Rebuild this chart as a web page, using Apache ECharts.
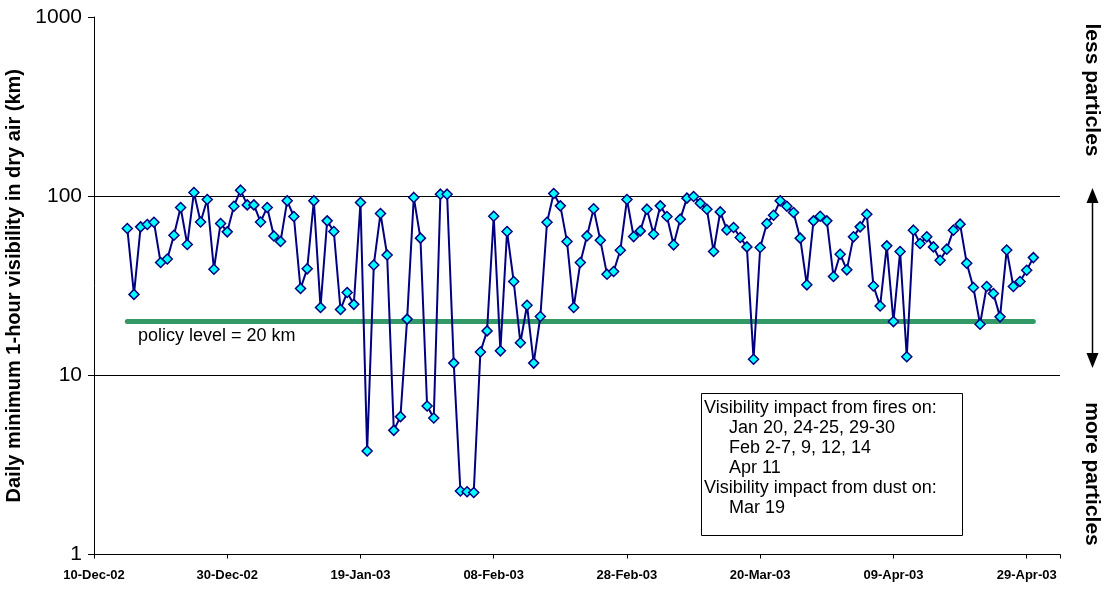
<!DOCTYPE html>
<html>
<head>
<meta charset="utf-8">
<script src="https://cdn.jsdelivr.net/npm/echarts@6/dist/echarts.min.js"></script>
<style>
  html, body { margin: 0; padding: 0; background: #fff; }
  #chart { width: 1109px; height: 589px; }
</style>
</head>
<body>
<div id="chart"></div>
<script>
// axis runs from axisStart to axisEnd, one tick label every 20 days
const axisStart = '2002-12-10';
const axisEnd = '2003-05-04';
const tickLabels = ['10-Dec-02', '30-Dec-02', '19-Jan-03', '08-Feb-03', '28-Feb-03', '20-Mar-03', '09-Apr-03', '29-Apr-03'];

// daily minimum 1-hour visibility (km), one value per day starting firstDay
const firstDay = '2002-12-15';
const visibility = [
  66.0, 28.3, 67.4, 69.5, 71.5, 42.6, 44.6, 60.5, 86.5, 53.7,
  104.9, 71.8, 95.8, 39.1, 70.4, 63.2, 87.9, 108, 89.4, 89.4,
  71.8, 86.5, 60.0, 55.8, 94.2, 77.0, 30.5, 39.3, 94.2, 23.9,
  72.8, 63.5, 23.3, 29.0, 24.9, 92.2, 3.78, 41.3, 80.0, 47.0,
  4.93, 5.88, 20.6, 98.4, 58.3, 6.74, 5.78, 102.6, 102.6, 11.7,
  2.26, 2.24, 2.22, 13.5, 17.7, 77.3, 13.7, 63.5, 33.4, 15.2,
  24.6, 11.7, 21.3, 71.5, 103.5, 88.3, 55.8, 23.9, 42.6, 60.0,
  85.0, 56.8, 36.7, 38.0, 49.9, 95.8, 59.5, 64.0, 84.6, 61.3,
  88.3, 77.0, 53.5, 74.4, 97.5, 99.6, 91.4, 84.6, 49.1, 81.7,
  64.8, 66.9, 58.8, 52.1, 12.3, 51.7, 70.4, 78.3, 94.2, 87.9,
  81.1, 58.3, 32.0, 72.8, 77.3, 72.8, 35.6, 47.4, 38.8, 59.3,
  67.4, 79.3, 31.5, 24.4, 52.8, 19.95, 49.1, 12.7, 64.6, 54.4,
  59.3, 52.1, 43.9, 50.6, 64.6, 69.8, 42.2, 30.9, 19.3, 31.3,
  28.6, 21.2, 50.1, 31.3, 33.4, 38.6, 45.4
];

const policyLevel = 20;

// text box, second item = indented
const noteLines = [
  ['Visibility impact from fires on:', false],
  ['Jan 20, 24-25, 29-30', true],
  ['Feb 2-7, 9, 12, 14', true],
  ['Apr 11', true],
  ['Visibility impact from dust on:', false],
  ['Mar 19', true]
];

const FONT = 'Liberation Sans, Arial, sans-serif';
const DAY = 86400000;
function dayOf(d) {
  return Math.round((Date.parse(d) - Date.parse(axisStart)) / DAY);
}

const start = dayOf(firstDay);
const visData = visibility.map((v, i) => [start + i, v]);
const policyData = visibility.map((v, i) => [start + i, policyLevel]);

const noteGraphics = noteLines.map((l, k) => ({
  type: 'text',
  x: l[1] ? 729 : 704,
  y: 408 + k * 20,
  style: {
    text: l[0], fill: '#000', fontFamily: FONT, fontSize: 18,
    verticalAlign: 'middle'
  }
}));

let chart = echarts.init(document.getElementById('chart'));
chart.setOption({
  animation: false,
  backgroundColor: '#fff',
  grid: { left: 94, right: 49, top: 17, bottom: 34.5, containLabel: false, outerBoundsMode: 'none' },
  xAxis: {
    type: 'value',
    min: 0,
    max: dayOf(axisEnd),
    interval: 20,
    axisLine: { lineStyle: { color: '#000', width: 1 } },
    axisTick: { show: true, length: 4, lineStyle: { color: '#000' } },
    splitLine: { show: false },
    axisLabel: {
      color: '#000', fontFamily: FONT, fontSize: 13, fontWeight: 'bold', margin: 14,
      formatter: v => (v % 20 === 0 ? (tickLabels[v / 20] || '') : '')
    }
  },
  yAxis: {
    type: 'log',
    logBase: 10,
    min: 1,
    max: 1000,
    name: 'Daily minimum 1-hour visibility in dry air (km)',
    nameLocation: 'middle',
    nameGap: 60,
    nameTextStyle: { color: '#000', fontFamily: FONT, fontSize: 20, fontWeight: 'bold' },
    axisLine: { show: true, lineStyle: { color: '#000', width: 1 } },
    axisTick: { show: true, length: 6, lineStyle: { color: '#000' } },
    axisLabel: { color: '#000', fontFamily: FONT, fontSize: 21, margin: 12, formatter: v => String(v) },
    splitLine: {
      show: true, showMinLine: false, showMaxLine: false,
      lineStyle: { color: '#000', width: 1 }
    }
  },
  series: [
    {
      name: 'policy level',
      type: 'line',
      data: policyData,
      symbol: 'none',
      silent: true,
      z: 2,
      lineStyle: { color: '#339966', width: 5, cap: 'round' }
    },
    {
      name: 'visibility',
      type: 'line',
      data: visData,
      symbol: 'diamond',
      symbolSize: 10,
      z: 3,
      itemStyle: { color: '#00ffff', borderColor: '#000080', borderWidth: 1.5 },
      lineStyle: { color: '#000080', width: 2 },
      emphasis: { disabled: true }
    }
  ],
  graphic: [
    {
      type: 'text', x: 138, y: 336,
      style: { text: 'policy level = 20 km', fill: '#000', fontFamily: FONT, fontSize: 18, verticalAlign: 'middle' }
    },
    {
      type: 'rect',
      shape: { x: 701.5, y: 393.5, width: 261, height: 142 },
      style: { fill: '#fff', stroke: '#000', lineWidth: 1 }
    },
    ...noteGraphics,
    {
      type: 'text', x: 1092, y: 90, rotation: -Math.PI / 2,
      style: { text: 'less particles', fill: '#000', fontFamily: FONT, fontSize: 21, fontWeight: 'bold', align: 'center', verticalAlign: 'middle' }
    },
    {
      type: 'text', x: 1092, y: 474, rotation: -Math.PI / 2,
      style: { text: 'more particles', fill: '#000', fontFamily: FONT, fontSize: 21, fontWeight: 'bold', align: 'center', verticalAlign: 'middle' }
    },
    {
      type: 'line',
      shape: { x1: 1092.5, y1: 200, x2: 1092.5, y2: 356 },
      style: { stroke: '#000', lineWidth: 1.5 }
    },
    {
      type: 'polygon',
      shape: { points: [[1092.5, 188], [1086.5, 203], [1098.5, 203]] },
      style: { fill: '#000' }
    },
    {
      type: 'polygon',
      shape: { points: [[1092.5, 368], [1086.5, 353], [1098.5, 353]] },
      style: { fill: '#000' }
    }
  ]
});
</script>
</body>
</html>
